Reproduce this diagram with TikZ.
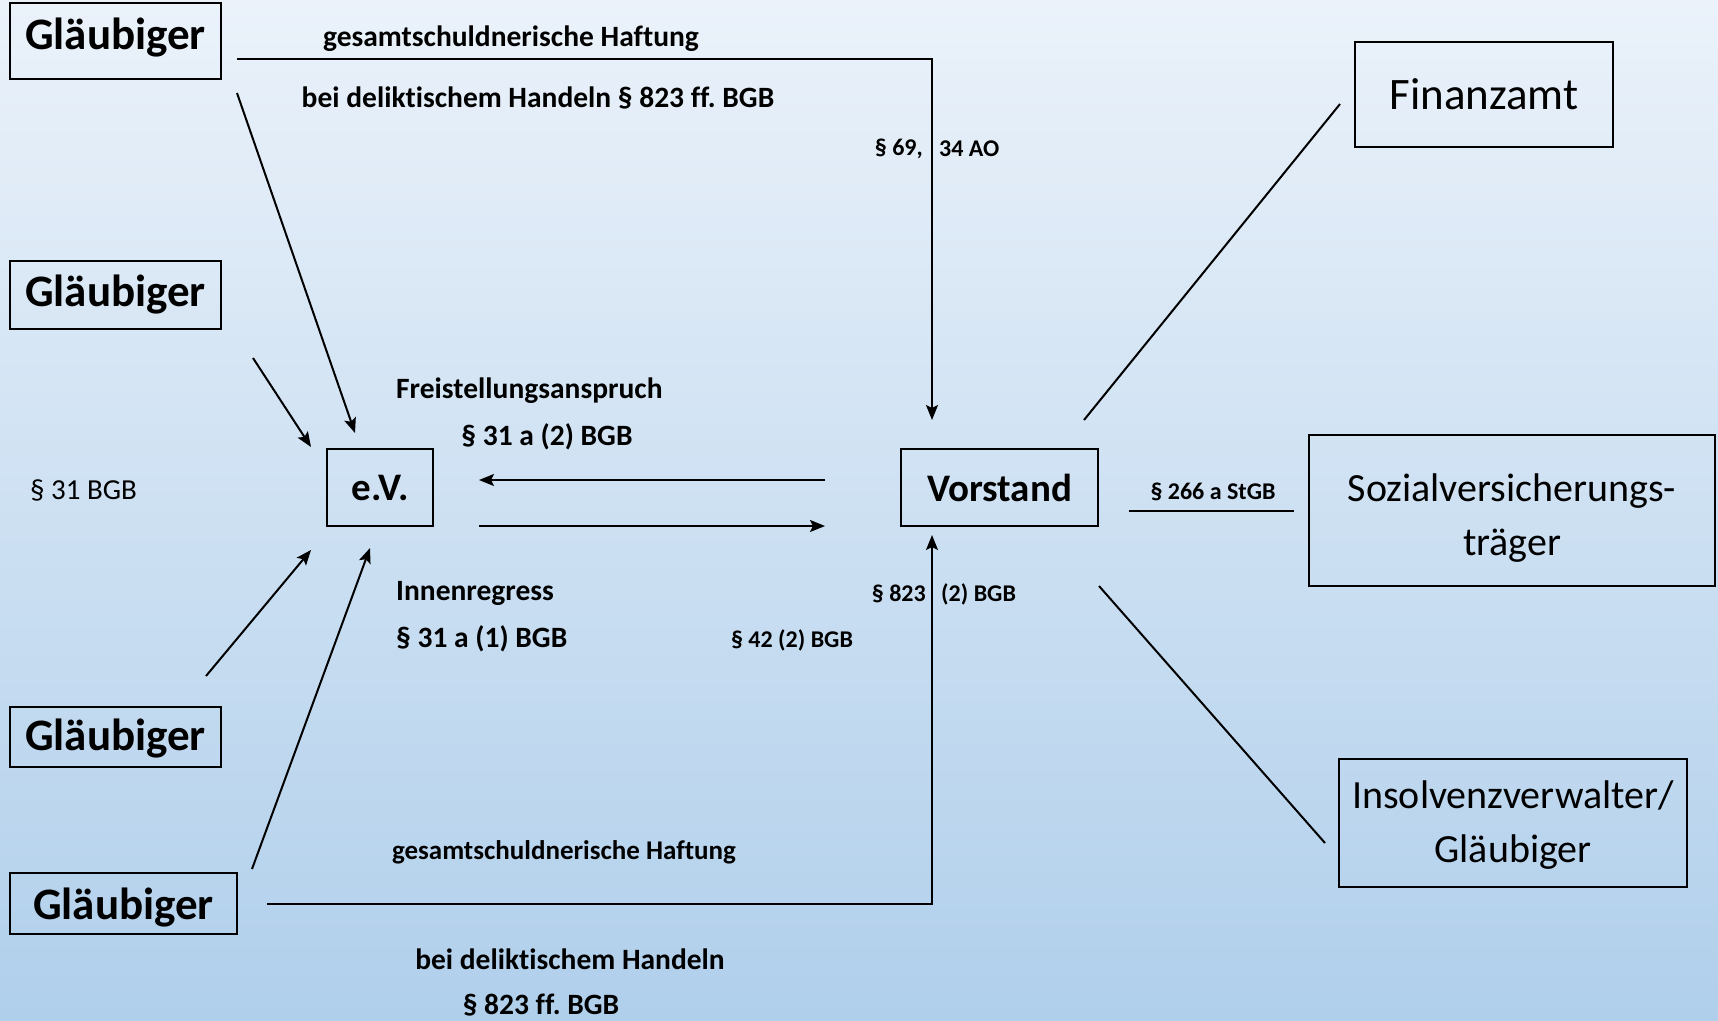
\documentclass[tikz,border=0pt]{standalone}
\usepackage{fontspec}
\setmainfont{Carlito}[Ligatures=NoCommon]
\usetikzlibrary{arrows.meta}
\frenchspacing
\newcommand{\shiftv}[2]{\raisebox{#1}[\height][\depth]{#2}}
\begin{document}
\begin{tikzpicture}[x=1pt,y=-1pt,
  box/.style={draw=black, line width=2.5pt, inner sep=0pt, align=center},
  glbox/.style={box, font=\bfseries\fontsize{45}{50}\selectfont},
  midbox/.style={box, font=\bfseries\fontsize{39}{44}\selectfont},
  rbox/.style={box, font=\fontsize{40}{54}\selectfont},
  conn/.style={line width=2pt},
  arr/.style={conn, -{Stealth[length=15pt,width=12pt,inset=3pt]}},
  lbl/.style={inner sep=0pt, font=\bfseries\fontsize{29.5}{34}\selectfont},
  sm/.style={inner sep=0pt, font=\bfseries\fontsize{24}{28}\selectfont},
  reg/.style={inner sep=0pt, font=\fontsize{29}{32}\selectfont},
]
\useasboundingbox (0,0) rectangle (1718,1020);
\definecolor{bgtop}{RGB}{235,242,250}
\definecolor{bgbot}{RGB}{176,207,235}
\shade[top color=bgtop, bottom color=bgbot] (0,0) rectangle (1718,1020);

% boxes
\node[glbox, minimum width=211pt, minimum height=76pt] (g1) at (115.5,41) {\shiftv{3.5pt}{Gläubiger}};
\node[glbox, minimum width=211pt, minimum height=68pt] (g2) at (115.5,295) {Gläubiger};
\node[glbox, minimum width=211pt, minimum height=60pt] (g3) at (115.5,737) {\shiftv{-2pt}{Gläubiger}};
\node[glbox, minimum width=227pt, minimum height=61pt] (g4) at (123.5,903.5) {\shiftv{-4.5pt}{Gläubiger}};
\node[midbox, minimum width=106pt, minimum height=77pt] (ev) at (380,487.5) {e.V.};
\node[midbox, minimum width=197pt, minimum height=77pt] (vs) at (999.5,487.5) {Vorstand};
\node[box, font=\fontsize{45}{50}\selectfont, minimum width=258pt, minimum height=105pt] (fa) at (1484,94.5) {Finanzamt};
\node[rbox, minimum width=406pt, minimum height=151pt] (sv) at (1512,510.5)
  {\shiftv{-7pt}{\begin{tabular}{@{}c@{}}Sozialversicherungs-\\träger\end{tabular}}};
\node[rbox, minimum width=348pt, minimum height=128pt] (iv) at (1513,823)
  {\shiftv{-2pt}{\begin{tabular}{@{}c@{}}Insolvenzverwalter/\\Gläubiger\end{tabular}}};

% free ends
\coordinate (t0) at (237,59);
\coordinate (t1) at (932,59);
\coordinate (t2) at (932,420);
\coordinate (b0) at (267,904);
\coordinate (b1) at (932,904);
\coordinate (b2) at (932,535);
\coordinate (a1s) at (237,93);  \coordinate (a1e) at (355,433);
\coordinate (a2s) at (253,358); \coordinate (a2e) at (311,447);
\coordinate (a3s) at (206,676); \coordinate (a3e) at (311,550);
\coordinate (a4s) at (252,869); \coordinate (a4e) at (370,548);
\coordinate (h1s) at (825,480); \coordinate (h1e) at (479,480);
\coordinate (h2s) at (479,526); \coordinate (h2e) at (825,526);
\coordinate (fs) at (1084,420); \coordinate (fe) at (1340,104);
\coordinate (ss) at (1129,511); \coordinate (se) at (1294,511);
\coordinate (is) at (1099,586); \coordinate (ie) at (1325,843);

% connectors
\draw[arr] (t0) -- (t1) -- (t2);
\draw[arr] (b0) -- (b1) -- (b2);
\draw[arr] (a1s) -- (a1e);
\draw[arr] (a2s) -- (a2e);
\draw[arr] (a3s) -- (a3e);
\draw[arr] (a4s) -- (a4e);
\draw[arr] (h1s) -- (h1e);
\draw[arr] (h2s) -- (h2e);
\draw[conn] (fs) -- (fe);
\draw[conn] (ss) -- (se);
\draw[conn] (is) -- (ie);

% labels
\node[lbl] (l1) at (511,39) {gesamtschuldnerische Haftung};
\node[lbl] (l2) at (538,98) {bei deliktischem Handeln § 823 ff. BGB};
\node[sm, anchor=east] (l3) at (923,149) {§ 69,};
\node[sm, anchor=west] (l4) at (939,149) {34 AO};
\node[lbl, anchor=west] (l5) at (396,391) {Freistellungsanspruch};
\node[lbl] (l6) at (547,437) {§ 31 a (2) BGB};
\node[reg, anchor=west] (l7) at (30,490) {§ 31 BGB};
\node[lbl, anchor=west] (l8) at (396,593) {Innenregress};
\node[lbl, anchor=west] (l9) at (396,639) {§ 31 a (1) BGB};
\node[sm] (l10) at (792,640) {§ 42 (2) BGB};
\node[sm, anchor=east] (l11) at (926,594) {§ 823};
\node[sm, anchor=west] (l12) at (941,594) {(2) BGB};
\node[sm] (l13) at (1213,492) {§ 266 a StGB};
\node[inner sep=0pt, font=\bfseries\fontsize{27}{30}\selectfont] (l14) at (564,852) {gesamtschuldnerische Haftung};
\node[lbl] (l15) at (570,959) {bei deliktischem Handeln};
\node[lbl] (l16) at (541,1005) {§ 823 ff. BGB};
\end{tikzpicture}
\end{document}
